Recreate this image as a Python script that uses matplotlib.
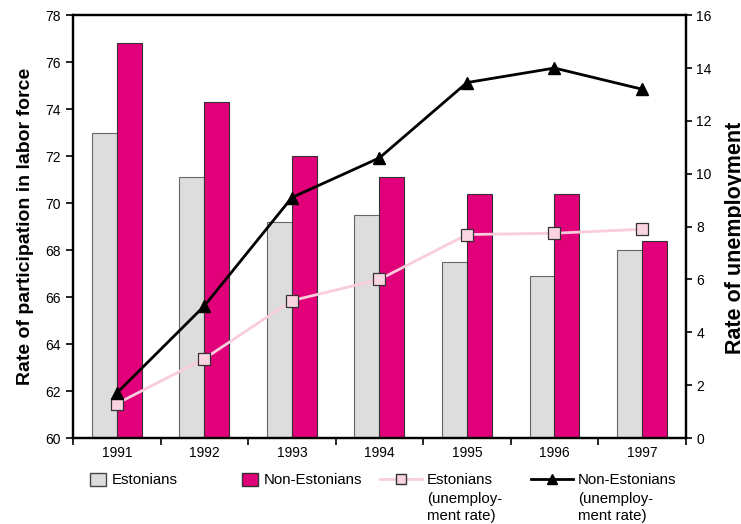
import numpy as np
import matplotlib.pyplot as plt
from matplotlib.patches import Patch
from matplotlib.lines import Line2D

plt.rcParams['font.family'] = ['Liberation Sans', 'DejaVu Sans']

years = ['1991', '1992', '1993', '1994', '1995', '1996', '1997']
part_est = [73.0, 71.1, 69.2, 69.5, 67.5, 66.9, 68.0]
part_non_est = [76.8, 74.3, 72.0, 71.1, 70.4, 70.4, 68.4]
unemp_est = [1.3, 3.0, 5.2, 6.0, 7.7, 7.75, 7.9]
unemp_non_est = [1.7, 5.0, 9.1, 10.6, 13.45, 14.0, 13.2]

grey = '#dddddd'
magenta = '#e2007a'
pink = '#f9cddc'

W, H = 741, 524
fig = plt.figure(figsize=(W / 100, H / 100), dpi=100)
ax = fig.add_axes([0.0985, 0.164, 0.827, 0.807])
x = np.arange(len(years))
w = 0.285

ax.bar(x - w / 2, np.array(part_est) - 60, w, bottom=60, color=grey,
       edgecolor='#666666', linewidth=0.8, zorder=2)
ax.bar(x + w / 2, np.array(part_non_est) - 60, w, bottom=60, color=magenta,
       edgecolor='#333333', linewidth=0.8, zorder=2)
ax.set_xlim(-0.5, len(years) - 0.5)
ax.set_ylim(60, 78)
ax.set_yticks(np.arange(60, 79, 2))
ax.set_xticks(x)
ax.set_xticklabels(years)
ax.set_xticks(np.arange(-0.5, len(years)), minor=True)
ax.tick_params(axis='x', which='major', length=0, pad=6)
ax.tick_params(axis='x', which='minor', length=5, width=1.2)
ax.tick_params(axis='y', length=5, width=1.2)
ax.tick_params(labelsize=10)
ax.set_ylabel('Rate of participation in labor force', fontsize=14,
              fontweight='bold', labelpad=8)
for s in ax.spines.values():
    s.set_linewidth(1.6)

ax2 = ax.twinx()
ax2.plot(x, unemp_est, color=pink, linewidth=2, marker='s', markersize=8,
         markerfacecolor='#fad4e1', markeredgecolor='#333333',
         markeredgewidth=0.9, zorder=3)
ax2.plot(x, unemp_non_est, color='black', linewidth=2, marker='^',
         markersize=8, zorder=4)
ax2.set_ylim(0, 16)
ax2.set_yticks(np.arange(0, 17, 2))
ax2.tick_params(axis='y', length=4, width=1.2, labelsize=10)
ax2.set_ylabel('Rate of unemployment', fontsize=15.5, fontweight='bold')
ax2.yaxis.set_label_coords(1.0636, 0.474)
for s in ax2.spines.values():
    s.set_linewidth(1.6)

# legend row under the year labels, one small legend per entry
handles = [
    Patch(facecolor=grey, edgecolor='#444444'),
    Patch(facecolor=magenta, edgecolor='#333333'),
    Line2D([], [], color=pink, linewidth=2, marker='s', markersize=7,
           markerfacecolor='#fad4e1', markeredgecolor='#333333'),
    Line2D([], [], color='black', linewidth=2, marker='^', markersize=7),
]
labels = ['Estonians', 'Non-Estonians', 'Estonians', 'Non-Estonians']
extra = [None, None, '(unemploy-\nment rate)', '(unemploy-\nment rate)']
left_px = [90, 242, 380, 531]
fs = 10.8
legends = []
for h, lab, lx in zip(handles, labels, left_px):
    is_line = isinstance(h, Line2D)
    leg = fig.legend([h], [lab], loc='center left',
                     bbox_to_anchor=(lx / W, 1 - 480 / H),
                     frameon=False, fontsize=fs,
                     handlelength=2.8 if is_line else 1.07,
                     handleheight=0.95,
                     handletextpad=0.33 if is_line else 0.4,
                     borderpad=0, borderaxespad=0)
    legends.append(leg)

fig.canvas.draw()
for leg, more in zip(legends, extra):
    if more is None:
        continue
    bb = leg.get_texts()[0].get_window_extent()
    fig.text(bb.x0 / W, (bb.y0 - 5) / H, more, fontsize=fs, va='top',
             ha='left', linespacing=1.25)

fig.savefig('out.png', dpi=100)
